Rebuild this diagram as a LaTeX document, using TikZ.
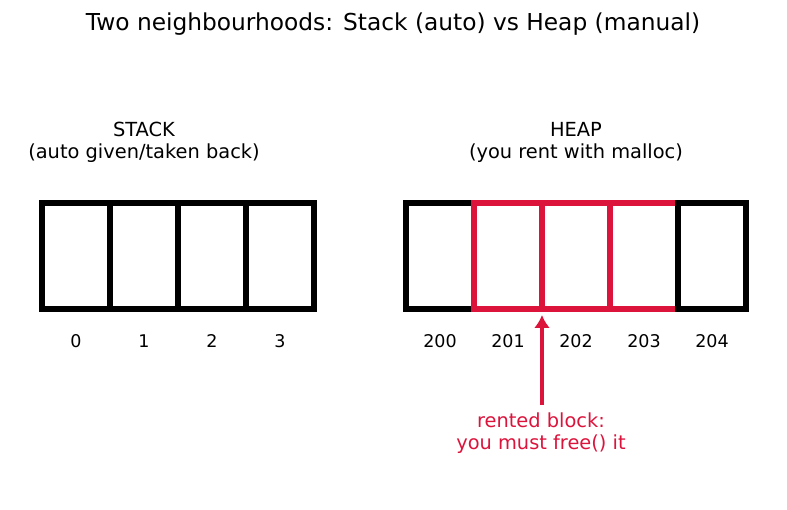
\documentclass[tikz,border=0pt]{standalone}
\usepackage{fontspec}
\setmainfont{DejaVu Sans}
\usepackage{xcolor}
\usepackage{tikz}
\usetikzlibrary{positioning, arrows.meta}
\definecolor{rent}{HTML}{DC143C}

\begin{document}
\begin{tikzpicture}[x=1pt, y=-1pt,
  cell/.style={draw=black, line width=5.2pt, minimum width=68pt, minimum height=106pt, inner sep=0pt, outer sep=0pt},
  num/.style={inner sep=0pt, text height=12.5pt, text depth=0pt, font=\fontsize{17.5}{20}\selectfont},
  side/.style={align=center, inner sep=0pt, anchor=north, font=\fontsize{19.4}{22}\selectfont},
  note/.style={align=center, text=rent, inner xsep=0pt, inner ysep=8pt, anchor=north, font=\fontsize{19.4}{21.5}\selectfont}]
\useasboundingbox (0,0) rectangle (787,510);
\node[font=\fontsize{23.3}{27}\selectfont] (title) at (393,24) {Two neighbourhoods: Stack (auto) vs Heap (manual)};
% stack cells
\foreach \k in {0,...,3} {
  \node[cell] (s\k) at (76+68*\k, 256) {};
  \node[num, below=26pt of s\k] (ls\k) {\k};
}
% heap cells, the rented ones in red
\foreach \n/\c [count=\k from 0] in {200/black, 201/rent, 202/rent, 203/rent, 204/black} {
  \node[cell, draw=\c] (h\n) at (440+68*\k, 256) {};
  \node[num, below=26pt of h\n] (l\n) {\n};
}
\node[side] (stack) at (144,122) {STACK\\(auto given/taken back)};
\node[side] (heap) at (576,122) {HEAP\\(you rent with malloc)};
\node[note] (rented) at (541,405) {rented block:\\you must free() it};
\coordinate (tip) at ([yshift=-6pt]h201.south east);
\draw[rent, line width=4.4pt, -{Latex[length=13pt, width=16pt]}] (rented.north -| tip) -- (tip);
\end{tikzpicture}
\end{document}
